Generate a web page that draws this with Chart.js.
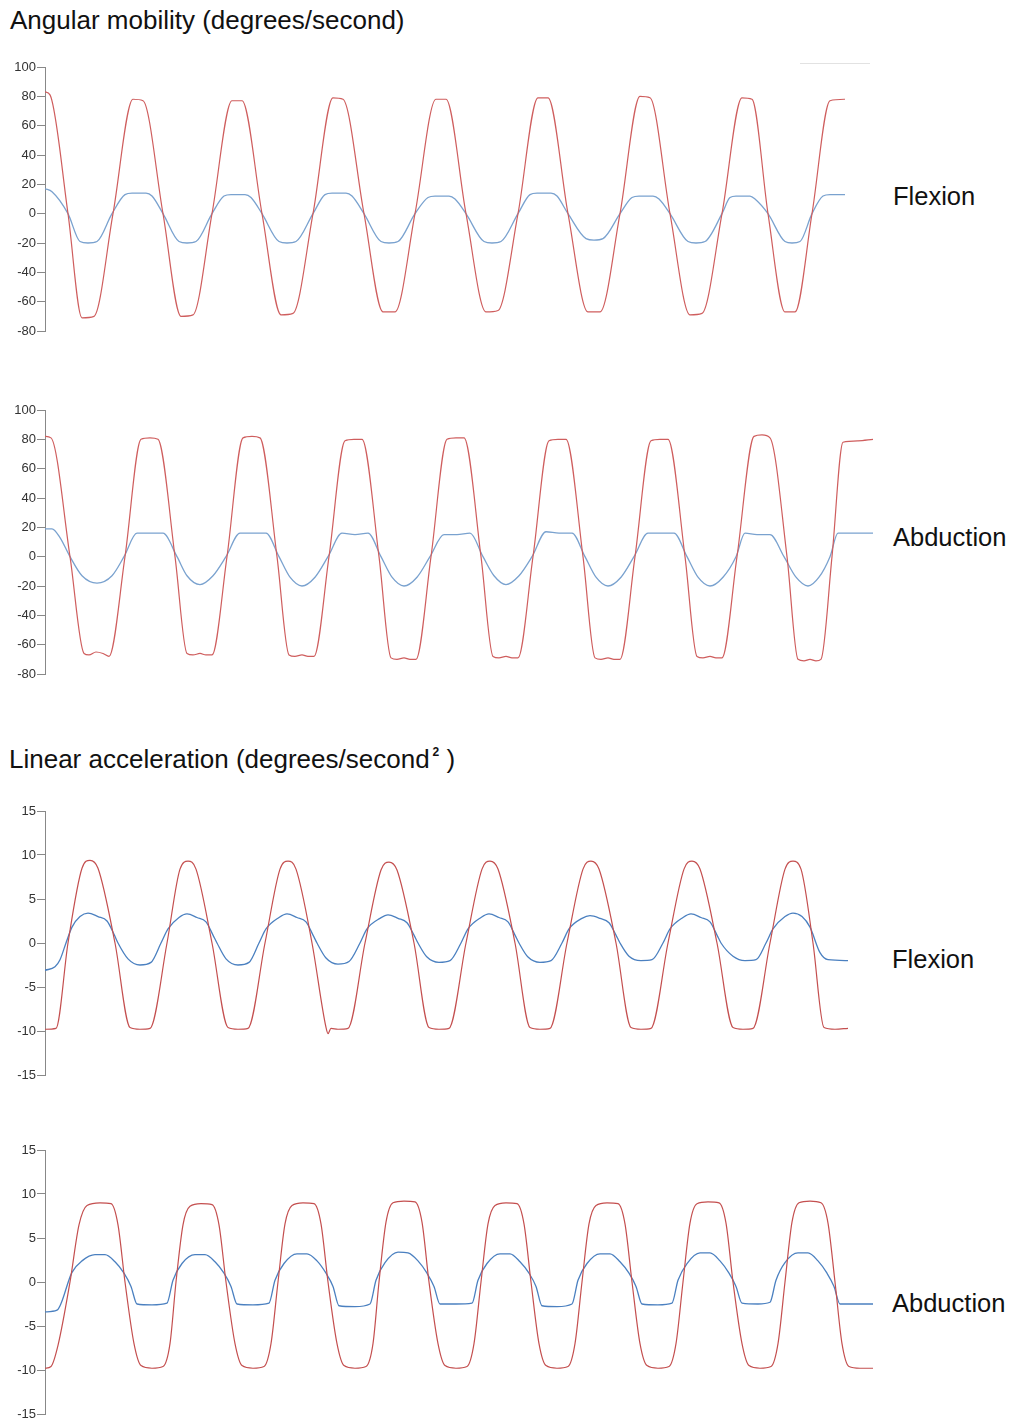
<!DOCTYPE html>
<html><head><meta charset="utf-8">
<script src="https://cdn.jsdelivr.net/npm/chart.js@4/dist/chart.umd.min.js"></script>
<style>
body{margin:0;background:#fff;width:1016px;height:1420px;position:relative;font-family:"Liberation Sans",Arial,sans-serif;overflow:hidden}
.t{position:absolute;color:#111;white-space:nowrap;line-height:1}
canvas{position:absolute;left:0}
</style></head><body>
<div class="t" style="left:10px;top:7px;font-size:26px">Angular mobility (degrees/second)</div>
<div class="t" style="left:9px;top:746px;font-size:26px">Linear acceleration (degrees/second<span style="font-size:12px;position:relative;top:-12px;font-weight:bold;margin-left:3px">2</span> )</div>
<div class="t" style="left:893px;top:184px;font-size:25.5px">Flexion</div>
<div class="t" style="left:893px;top:525px;font-size:25.5px">Abduction</div>
<div class="t" style="left:892px;top:947px;font-size:25.5px">Flexion</div>
<div class="t" style="left:892px;top:1291px;font-size:25.5px">Abduction</div>
<div style="position:absolute;left:800px;top:63px;width:70px;height:1px;background:#e2e2e2"></div>
<canvas id="c1" width="880" height="284" style="top:57px"></canvas>
<canvas id="c2" width="880" height="284" style="top:400px"></canvas>
<canvas id="c3" width="880" height="284" style="top:801px"></canvas>
<canvas id="c4" width="880" height="284" style="top:1140px"></canvas>
<script>
// time axis: samples
const angTicks = [100, 80, 60, 40, 20, 0, -20, -40, -60, -80];
const accTicks = [15, 10, 5, 0, -5, -10, -15];

const angFlexRed = [
[0,83],[5,81],[23,0],[37,-71],[49,-70],[68,0],[88,78],[98,77],[118,0],
[136,-70],[148,-69],[167,0],[187,77],[197,77],[217,0],
[236,-69],[248,-68],[268,0],[288,79],[298,78],[319,0],
[338,-67],[350,-67],[370,0],[391,78],[401,78],[421,0],
[441,-67],[453,-66],[473,0],[493,79],[503,79],[523,0],
[543,-67],[555,-67],[575,0],[595,80],[605,79],[625,0],
[645,-69],[657,-68],[677,0],[697,79],[707,78],[723,0],
[740,-67],[750,-67],[767,0],[785,77],[800,78]];

const angFlexBlue = [
[0,17],[7,15],[23,0],
[35,-19],[43,-20],[52,-19],[67,0],[80,13],[87,14],[101,14],[107,12],[118,0],
[134,-19],[142,-20],[151,-19],[167,0],[179,12],[186,13],[200,13],[206,11],[217,0],
[234,-19],[242,-20],[251,-19],[268,0],[280,13],[287,14],[301,14],[307,12],[319,0],
[336,-19],[344,-20],[353,-19],[370,0],[383,11],[390,12],[404,12],[410,10],[421,0],
[439,-19],[447,-20],[456,-19],[473,0],[485,13],[492,14],[506,14],[512,12],[523,0],
[541,-17],[549,-18],[558,-17],[575,0],[587,11],[594,12],[608,12],[614,10],[625,0],
[643,-19],[651,-20],[660,-19],[677,0],[685,11],[691,12],[705,12],[710,10],[723,0],
[740,-19],[747,-20],[755,-19],[767,0],[778,12],[785,13],[800,13]];

const angAbdRed = [
[0,82],[6,81],[25,0],
[39,-66],[44,-67],[51,-65],[58,-66],[64,-68],[80,0],[96,80],[105,81],[113,80],[130,0],
[142,-66],[148,-67],[155,-66],[161,-67],[167,-67],[182,0],[198,81],[207,82],[215,81],[232,0],
[244,-67],[250,-68],[257,-67],[263,-68],[269,-68],[284,0],[300,79],[309,80],[317,80],[334,0],
[346,-69],[352,-70],[359,-69],[365,-70],[371,-70],[386,0],[402,80],[411,81],[419,81],[436,0],
[448,-68],[454,-69],[461,-68],[467,-69],[473,-69],[488,0],[504,79],[513,80],[521,80],[538,0],
[550,-69],[556,-70],[563,-69],[569,-70],[575,-70],[590,0],[606,79],[615,80],[623,80],[640,0],
[652,-68],[658,-69],[665,-68],[671,-69],[677,-69],[692,0],[709,82],[717,83],[725,81],[742,0],
[753,-70],[759,-71],[765,-70],[771,-71],[776,-70],[787,0],[798,78],[813,79],[828,80]];

const angAbdBlue = [
[0,19],[7,19],[15,13],[25,0],
[37,-13],[52,-18],[67,-13],[79,0],[92,16],[105,16],[118,16],[132,0],
[142,-13],[155,-19],[168,-13],[181,0],[195,16],[208,16],[221,16],[234,0],
[245,-14],[257,-20],[270,-14],[283,0],[297,16],[310,15],[323,16],[336,0],
[347,-14],[359,-20],[372,-14],[385,0],[399,15],[412,15],[425,16],[438,0],
[449,-13],[461,-19],[474,-13],[487,0],[501,17],[514,16],[527,16],[540,0],
[551,-14],[563,-20],[576,-14],[589,0],[603,16],[616,16],[629,16],[642,0],
[653,-14],[665,-20],[678,-14],[691,0],[700,16],[712,15],[725,15],[739,0],
[751,-14],[763,-20],[774,-14],[785,0],[793,16],[810,16],[828,16]];

const accFlexRed = [
[0,-9.8],[11,-9.7],[23,0],[37,8.5],[45,9.4],[53,8.5],[70,0],
[85,-9.6],[95,-9.8],[105,-9.7],[122,0],[135,8.4],[143,9.3],[151,8.4],[167,0],
[183,-9.6],[193,-9.8],[203,-9.7],[220,0],[235,8.4],[243,9.3],[251,8.4],[267,0],
[281,-9.6],[283,-10.3],[286,-9.7],[293,-9.8],[303,-9.7],[320,0],[336,8.3],[344,9.2],[352,8.3],[369,0],
[384,-9.6],[394,-9.8],[404,-9.7],[421,0],[437,8.4],[445,9.3],[453,8.4],[470,0],
[485,-9.6],[495,-9.8],[505,-9.7],[522,0],[538,8.4],[546,9.3],[554,8.4],[571,0],
[586,-9.6],[596,-9.8],[606,-9.7],[623,0],[639,8.4],[647,9.3],[655,8.4],[672,0],
[688,-9.6],[698,-9.8],[708,-9.7],[725,0],[740,8.4],[748,9.3],[756,8.4],[768,0],
[779,-9.6],[790,-9.8],[803,-9.7]];

const accFlexBlue = [
[0,-3.1],[10,-2.7],[15,-1.9],[21,0],[27,1.8],
[35,3.0],[43,3.4],[53,3.0],[62,2.5],[69,1.0],[73,0],[83,-1.8],[95,-2.5],[106,-2.2],[116,0],[123,1.6],
[134,2.9],[142,3.3],[152,2.9],[161,2.4],[168,0.9],[172,0],[181,-1.8],[193,-2.5],[204,-2.2],[214,0],[221,1.6],
[234,2.9],[242,3.3],[252,2.9],[261,2.4],[268,0.9],[272,0],[281,-1.7],[293,-2.4],[304,-2.1],[315,0],[322,1.6],
[335,2.8],[343,3.2],[353,2.8],[362,2.3],[369,0.9],[373,0],[382,-1.6],[394,-2.2],[405,-2.0],[416,0],[423,1.6],
[436,2.9],[444,3.3],[454,2.9],[463,2.4],[470,0.9],[474,0],[483,-1.6],[495,-2.2],[506,-2.0],[517,0],[524,1.6],
[537,2.8],[545,3.1],[555,2.8],[564,2.3],[571,0.9],[575,0],[584,-1.5],[596,-2.0],[607,-1.9],[618,0],[625,1.6],
[638,2.9],[646,3.3],[656,2.9],[665,2.4],[672,0.9],[676,0],[688,-1.5],[700,-2.0],[711,-1.9],[721,0],[728,1.6],
[740,3.0],[748,3.4],[757,3.0],[765,1.8],[775,-1.1],[783,-1.9],[803,-2.0]];

const accAbdRed = [
[0,-9.8],[6,-9.6],[13,-7.2],[25,0],[34,6.5],[42,8.7],[55,9.0],[66,8.9],[73,6.5],[80,0],
[89,-7.0],[96,-9.5],[107,-9.8],[118,-9.6],[125,-7.0],[131,0],
[138,6.5],[145,8.6],[156,8.9],[167,8.8],[174,6.5],[181,0],
[190,-7.0],[197,-9.5],[208,-9.8],[219,-9.6],[226,-7.0],[233,0],
[240,6.6],[247,8.7],[258,9.0],[269,8.9],[276,6.6],[283,0],
[292,-7.0],[299,-9.5],[310,-9.8],[321,-9.6],[328,-7.0],[334,0],
[341,6.8],[348,9.0],[359,9.2],[370,9.1],[377,6.8],[384,0],
[393,-7.0],[400,-9.5],[411,-9.8],[422,-9.6],[429,-7.0],[436,0],
[443,6.6],[450,8.7],[461,9.0],[472,8.9],[479,6.6],[486,0],
[494,-7.0],[501,-9.5],[512,-9.8],[523,-9.6],[530,-7.0],[537,0],
[544,6.6],[551,8.7],[562,9.0],[573,8.9],[580,6.6],[587,0],
[595,-7.0],[602,-9.5],[613,-9.8],[624,-9.6],[631,-7.0],[638,0],
[645,6.7],[652,8.9],[663,9.1],[674,9.0],[681,6.7],[688,0],
[697,-7.0],[704,-9.5],[715,-9.8],[726,-9.6],[733,-7.0],[740,0],
[747,6.8],[754,9.0],[765,9.2],[776,9.0],[783,6.7],[790,0],
[797,-7.0],[804,-9.6],[815,-9.8],[828,-9.8]];

const accAbdBlue = [
[0,-3.4],[12,-3.2],[27,1.1],[37,2.4],[50,3.1],[60,3.1],[70,2.3],[79,1.0],[86,-0.5],[92,-2.5],[107,-2.6],[122,-2.4],
[128,0.2],[137,2.1],[150,3.1],[160,3.1],[170,2.3],[179,1.0],[186,-0.5],[192,-2.5],[208,-2.6],[224,-2.4],
[230,0.2],[239,2.1],[252,3.2],[262,3.2],[272,2.4],[281,1.0],[288,-0.5],[294,-2.7],[310,-2.8],[325,-2.5],
[331,0.2],[340,2.2],[353,3.4],[363,3.3],[373,2.4],[382,1.0],[389,-0.5],[395,-2.5],[411,-2.5],[427,-2.4],
[433,0.2],[442,2.1],[455,3.2],[465,3.2],[475,2.3],[484,1.0],[491,-0.5],[497,-2.7],[512,-2.8],[527,-2.5],
[533,0.2],[542,2.1],[555,3.2],[565,3.2],[575,2.3],[584,1.0],[591,-0.5],[597,-2.5],[613,-2.6],[627,-2.4],
[633,0.2],[642,2.1],[655,3.3],[665,3.3],[675,2.4],[684,1.0],[691,-0.5],[697,-2.4],[713,-2.5],[725,-2.3],
[731,0.2],[740,2.2],[753,3.3],[763,3.3],[773,2.4],[782,1.0],[789,-0.5],[795,-2.5],[810,-2.5],[828,-2.5]];

const toXY = a => a.map(p => ({x: p[0], y: p[1]}));

function makeChart(id, red, blue, ticks, redColor, blueColor) {
  const lo = ticks[ticks.length - 1], hi = ticks[0];
  new Chart(document.getElementById(id), {
    type: 'line',
    data: { datasets: [
      { label: 'Red', data: toXY(red), borderColor: redColor, borderWidth: 1.2, pointRadius: 0, fill: false, cubicInterpolationMode: 'monotone' },
      { label: 'Blue', data: toXY(blue), borderColor: blueColor, borderWidth: 1.3, pointRadius: 0, fill: false, cubicInterpolationMode: 'monotone' }
    ]},
    options: {
      responsive: false, animation: false, devicePixelRatio: 1,
      layout: { padding: { top: 10, bottom: 10, left: 0, right: 5 } },
      plugins: { legend: { display: false }, tooltip: { enabled: false } },
      scales: {
        x: { type: 'linear', min: 0, max: 830, display: false },
        y: {
          min: lo, max: hi,
          afterBuildTicks: s => { s.ticks = ticks.map(v => ({ value: v })); },
          afterFit: s => { s.width = 45; },
          ticks: { padding: 1, color: '#333', font: { family: 'Liberation Sans', size: 13 } },
          grid: { drawOnChartArea: false, drawTicks: true, tickLength: 8, color: '#888', lineWidth: 1 },
          border: { display: true, color: '#888', width: 1 }
        }
      }
    }
  });
}

makeChart('c1', angFlexRed, angFlexBlue, angTicks, '#cf5e5e', '#7aa2cf');
makeChart('c2', angAbdRed, angAbdBlue, angTicks, '#cf5e5e', '#7aa2cf');
makeChart('c3', accFlexRed, accFlexBlue, accTicks, '#c44f4f', '#4b80c0');
makeChart('c4', accAbdRed, accAbdBlue, accTicks, '#c44f4f', '#4b80c0');
</script>
</body></html>
